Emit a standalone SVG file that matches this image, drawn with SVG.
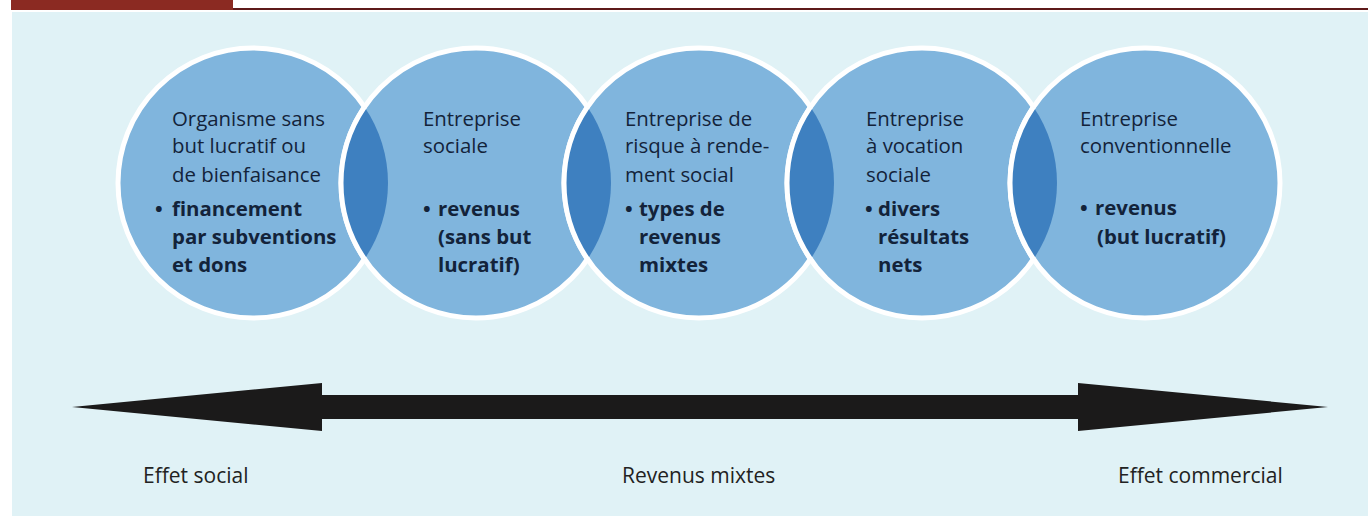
<svg xmlns="http://www.w3.org/2000/svg" width="1368" height="520" viewBox="0 0 1368 520">
<style>
.c{fill:#80b5dd;stroke:#ffffff;stroke-width:5}
.lens{fill:#3e80c0}
.edge{fill:none;stroke:#ffffff;stroke-width:5}
.t{font-family:"Open Sans","Noto Sans",sans-serif;font-size:20.4px;fill:#13233a}
.b{font-weight:bold}
.lab{font-family:"Open Sans","Noto Sans",sans-serif;font-size:21px;fill:#222222}
.arrow{fill:#1b1a1a}
</style>
<rect x="0" y="0" width="1368" height="520" fill="#ffffff"/>
<rect x="12" y="12" width="1356" height="504" fill="#e0f2f6"/>
<g id="header">
<rect x="11" y="0" width="222" height="10" fill="#8b2a22"/>
<rect x="233" y="8" width="1135" height="2" fill="#5e1a1a"/>
</g>
<g id="circles">
<circle class="c" cx="253" cy="183" r="135"/>
<circle class="c" cx="476" cy="183" r="135"/>
<circle class="c" cx="699" cy="183" r="135"/>
<circle class="c" cx="922" cy="183" r="135"/>
<circle class="c" cx="1145" cy="183" r="135"/>
<path class="lens" d="M364.5 106.9 A135 135 0 0 1 364.5 259.1 A135 135 0 0 1 364.5 106.9 Z"/>
<path class="lens" d="M587.5 106.9 A135 135 0 0 1 587.5 259.1 A135 135 0 0 1 587.5 106.9 Z"/>
<path class="lens" d="M810.5 106.9 A135 135 0 0 1 810.5 259.1 A135 135 0 0 1 810.5 106.9 Z"/>
<path class="lens" d="M1033.5 106.9 A135 135 0 0 1 1033.5 259.1 A135 135 0 0 1 1033.5 106.9 Z"/>
<path class="edge" d="M364.5 259.1 A135 135 0 0 1 364.5 106.9"/>
<path class="edge" d="M587.5 259.1 A135 135 0 0 1 587.5 106.9"/>
<path class="edge" d="M810.5 259.1 A135 135 0 0 1 810.5 106.9"/>
<path class="edge" d="M1033.5 259.1 A135 135 0 0 1 1033.5 106.9"/>
</g>
<g id="node1">
<text class="t" x="172" y="126">Organisme sans</text>
<text class="t" x="172" y="153">but lucratif ou</text>
<text class="t" x="172" y="182">de bienfaisance</text>
<text class="t b" x="155" y="216">•</text>
<text class="t b" x="172" y="216">financement</text>
<text class="t b" x="172" y="244">par subventions</text>
<text class="t b" x="172" y="272">et dons</text>
</g>
<g id="node2">
<text class="t" x="423" y="126">Entreprise</text>
<text class="t" x="423" y="153">sociale</text>
<text class="t b" x="423" y="216">•</text>
<text class="t b" x="438" y="216">revenus</text>
<text class="t b" x="438" y="244">(sans but</text>
<text class="t b" x="438" y="272">lucratif)</text>
</g>
<g id="node3">
<text class="t" x="625" y="126">Entreprise de</text>
<text class="t" x="625" y="153">risque à rende-</text>
<text class="t" x="625" y="182">ment social</text>
<text class="t b" x="625" y="216">•</text>
<text class="t b" x="639" y="216">types de</text>
<text class="t b" x="639" y="244">revenus</text>
<text class="t b" x="639" y="272">mixtes</text>
</g>
<g id="node4">
<text class="t" x="866" y="126">Entreprise</text>
<text class="t" x="866" y="153">à vocation</text>
<text class="t" x="866" y="182">sociale</text>
<text class="t b" x="865" y="216">•</text>
<text class="t b" x="878" y="216">divers</text>
<text class="t b" x="878" y="244">résultats</text>
<text class="t b" x="878" y="272">nets</text>
</g>
<g id="node5">
<text class="t" x="1080" y="126">Entreprise</text>
<text class="t" x="1080" y="153">conventionnelle</text>
<text class="t b" x="1080" y="215">•</text>
<text class="t b" x="1095" y="215">revenus</text>
<text class="t b" x="1097" y="244">(but lucratif)</text>
</g>
<g id="connectors">
<path class="arrow" d="M72 407 L322 383 L322 395 L1078 395 L1078 383 L1328 407 L1078 431 L1078 419 L322 419 L322 431 Z"/>
</g>
<g id="labels">
<text class="lab" x="143" y="483">Effet social</text>
<text class="lab" x="622" y="483">Revenus mixtes</text>
<text class="lab" x="1118" y="483">Effet commercial</text>
</g>
</svg>
